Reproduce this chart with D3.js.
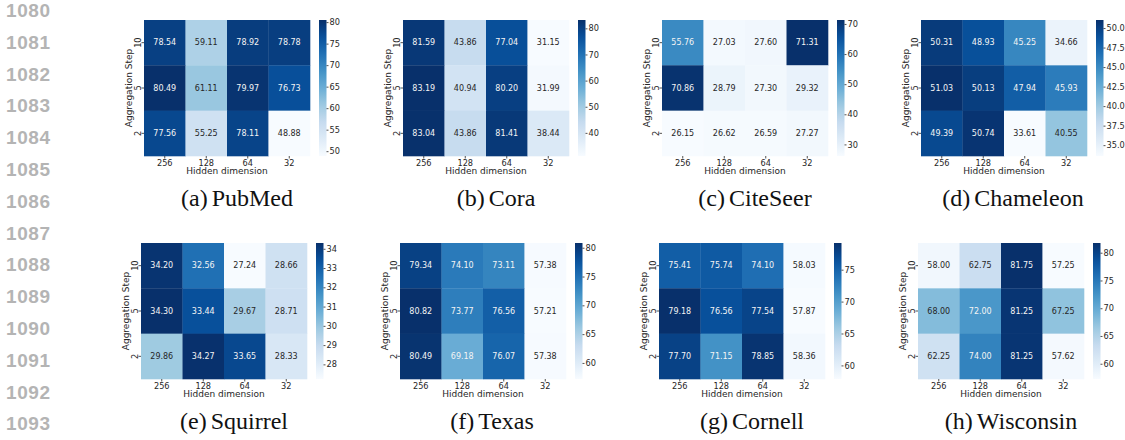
<!DOCTYPE html>
<html>
<head>
<meta charset="utf-8">
<script src="https://cdn.jsdelivr.net/npm/d3@7"></script>
<style>
  html, body { margin: 0; padding: 0; background: #fff; }
  svg { display: block; }
</style>
</head>
<body>
<svg id="fig" width="1125" height="440"></svg>
<script>
// Column and row categories shared by every heatmap
const hiddenDims = ["256", "128", "64", "32"];
const aggSteps = ["10", "5", "2"];

// Accuracy values, one row per aggregation step (10, 5, 2), columns by hidden dimension
const pubmedValues    = [[78.54, 59.11, 78.92, 78.78], [80.49, 61.11, 79.97, 76.73], [77.56, 55.25, 78.11, 48.88]];
const coraValues      = [[81.59, 43.86, 77.04, 31.15], [83.19, 40.94, 80.20, 31.99], [83.04, 43.86, 81.41, 38.44]];
const citeseerValues  = [[55.76, 27.03, 27.60, 71.31], [70.86, 28.79, 27.30, 29.32], [26.15, 26.62, 26.59, 27.27]];
const chameleonValues = [[50.31, 48.93, 45.25, 34.66], [51.03, 50.13, 47.94, 45.93], [49.39, 50.74, 33.61, 40.55]];
const squirrelValues  = [[34.20, 32.56, 27.24, 28.66], [34.30, 33.44, 29.67, 28.71], [29.86, 34.27, 33.65, 28.33]];
const texasValues     = [[79.34, 74.10, 73.11, 57.38], [80.82, 73.77, 76.56, 57.21], [80.49, 69.18, 76.07, 57.38]];
const cornellValues   = [[75.41, 75.74, 74.10, 58.03], [79.18, 76.56, 77.54, 57.87], [77.70, 71.15, 78.85, 58.36]];
const wisconsinValues = [[58.00, 62.75, 81.75, 57.25], [68.00, 72.00, 81.25, 67.25], [62.25, 74.00, 81.25, 57.62]];

// Colour-bar tick values per dataset
const pubmedTicks    = [50, 55, 60, 65, 70, 75, 80];
const coraTicks      = [40, 50, 60, 70, 80];
const citeseerTicks  = [30, 40, 50, 60, 70];
const chameleonTicks = [35.0, 37.5, 40.0, 42.5, 45.0, 47.5, 50.0];
const squirrelTicks  = [28, 29, 30, 31, 32, 33, 34];
const texasTicks     = [60, 65, 70, 75, 80];
const cornellTicks   = [60, 65, 70, 75];
const wisconsinTicks = [60, 65, 70, 75, 80];

// Sub-figure captions
const captionLetters = ["(a)", "(b)", "(c)", "(d)", "(e)", "(f)", "(g)", "(h)"];
const captionNames = ["PubMed", "Cora", "CiteSeer", "Chameleon", "Squirrel", "Texas", "Cornell", "Wisconsin"];

// Manuscript line numbers in the margin
const lineNumbers = d3.range(1080, 1094);

const panels = [
  { values: pubmedValues,    ticks: pubmedTicks,    fmt: "d" },
  { values: coraValues,      ticks: coraTicks,      fmt: "d" },
  { values: citeseerValues,  ticks: citeseerTicks,  fmt: "d" },
  { values: chameleonValues, ticks: chameleonTicks, fmt: ".1f" },
  { values: squirrelValues,  ticks: squirrelTicks,  fmt: "d" },
  { values: texasValues,     ticks: texasTicks,     fmt: "d" },
  { values: cornellValues,   ticks: cornellTicks,   fmt: "d" },
  { values: wisconsinValues, ticks: wisconsinTicks, fmt: "d" }
];

// Matplotlib "Blues" colormap stops (linear segments)
const bluesStops = ["#f7fbff", "#deebf7", "#c6dbef", "#9ecae1", "#6baed6", "#4292c6", "#2171b5", "#08519c", "#08306b"];
const blues = d3.scaleLinear()
  .domain(d3.range(bluesStops.length).map(i => i / (bluesStops.length - 1)))
  .range(bluesStops)
  .interpolate(d3.interpolateRgb)
  .clamp(true);

function relLuminance(color) {
  const c = d3.rgb(color);
  const lin = v => { v /= 255; return v <= 0.03928 ? v / 12.92 : Math.pow((v + 0.055) / 1.055, 2.4); };
  return 0.2126 * lin(c.r) + 0.7152 * lin(c.g) + 0.0722 * lin(c.b);
}

const svg = d3.select("#fig");
const sans = "'DejaVu Sans', sans-serif";
const ink = "#262626";

// Layout
const heatW = 166, heatH = 136;
const colStep = 259;
const rowLeft = [144, 141];
const rowTop = [20, 243];
const cbarOffset = 175, cbarW = 7.5;
const captionCx = [237, 496, 755, 1013, 234, 492, 752, 1011];
const captionBase = [206, 429];

// Line numbers
svg.append("g").selectAll("text")
  .data(lineNumbers)
  .join("text")
  .attr("x", 6)
  .attr("y", (d, i) => 17 + i * 31.8)
  .attr("font-family", "'Liberation Sans', Arial, sans-serif")
  .attr("font-size", 19)
  .attr("font-weight", "bold")
  .attr("letter-spacing", 0.6)
  .attr("fill", "#b4b4b4")
  .text(d => d);

panels.forEach((p, idx) => {
  const row = Math.floor(idx / 4), col = idx % 4;
  const left = rowLeft[row] + col * colStep;
  const top = rowTop[row];
  const g = svg.append("g").attr("transform", `translate(${left},${top})`);

  const flat = p.values.flat();
  const vmin = d3.min(flat), vmax = d3.max(flat);
  const norm = d3.scaleLinear().domain([vmin, vmax]).range([0, 1]);
  const color = v => blues(norm(v));

  const x = d3.scaleBand().domain(hiddenDims).range([0, heatW]);
  const y = d3.scaleBand().domain(aggSteps).range([0, heatH]);

  const cells = aggSteps.flatMap((s, r) => hiddenDims.map((h, c) => ({ s, h, v: p.values[r][c] })));

  g.selectAll("rect.cell")
    .data(cells)
    .join("rect")
    .attr("class", "cell")
    .attr("x", d => x(d.h))
    .attr("y", d => y(d.s))
    .attr("width", x.bandwidth() + 0.3)
    .attr("height", y.bandwidth() + 0.3)
    .attr("fill", d => color(d.v));

  g.selectAll("text.annot")
    .data(cells)
    .join("text")
    .attr("class", "annot")
    .attr("x", d => x(d.h) + x.bandwidth() / 2)
    .attr("y", d => y(d.s) + y.bandwidth() / 2)
    .attr("dy", "0.35em")
    .attr("text-anchor", "middle")
    .attr("font-family", sans)
    .attr("font-size", 8)
    .attr("fill", d => relLuminance(color(d.v)) > 0.408 ? ink : "#f4f4f4")
    .text(d => d3.format(".2f")(d.v));

  // x axis
  const xAxis = g.append("g").attr("transform", `translate(0,${heatH})`)
    .call(d3.axisBottom(x).tickSize(2.5).tickPadding(1.5));
  xAxis.select(".domain").remove();
  xAxis.selectAll("line").attr("stroke", ink).attr("stroke-width", 0.8);
  xAxis.selectAll("text").attr("font-family", sans).attr("font-size", 8.2).attr("fill", ink);

  // y axis with vertical labels
  const yAxis = g.append("g").call(d3.axisLeft(y).tickSize(2.5).tickPadding(1.5));
  yAxis.select(".domain").remove();
  yAxis.selectAll("line").attr("stroke", ink).attr("stroke-width", 0.8);
  yAxis.selectAll("text")
    .attr("font-family", sans).attr("font-size", 8.2).attr("fill", ink)
    .attr("x", null)
    .attr("text-anchor", "middle")
    .attr("transform", "translate(-6,0) rotate(-90)")
    .attr("dy", "0.35em");

  g.append("text")
    .attr("x", heatW / 2)
    .attr("y", heatH + 18)
    .attr("text-anchor", "middle")
    .attr("font-family", sans)
    .attr("font-size", 9)
    .attr("fill", ink)
    .text("Hidden dimension");

  g.append("text")
    .attr("transform", `translate(-15.5,${heatH / 2}) rotate(-90)`)
    .attr("dy", "0.35em")
    .attr("text-anchor", "middle")
    .attr("font-family", sans)
    .attr("font-size", 9)
    .attr("fill", ink)
    .text("Aggregation Step");

  // colour bar
  const gradId = `cbar-grad-${idx}`;
  const grad = svg.append("defs").append("linearGradient")
    .attr("id", gradId).attr("x1", 0).attr("y1", 1).attr("x2", 0).attr("y2", 0);
  d3.range(0, 1.0001, 0.05).forEach(t => {
    grad.append("stop").attr("offset", t).attr("stop-color", blues(t));
  });
  const cb = g.append("g").attr("transform", `translate(${cbarOffset},0)`);
  cb.append("rect").attr("width", cbarW).attr("height", heatH).attr("fill", `url(#${gradId})`);
  const cScale = d3.scaleLinear().domain([vmin, vmax]).range([heatH, 0]);
  const cAxis = cb.append("g").attr("transform", `translate(${cbarW},0)`)
    .call(d3.axisRight(cScale).tickValues(p.ticks).tickFormat(d3.format(p.fmt)).tickSize(2).tickPadding(1));
  cAxis.select(".domain").remove();
  cAxis.selectAll("line").attr("stroke", ink).attr("stroke-width", 0.8);
  cAxis.selectAll("text").attr("font-family", sans).attr("font-size", 8.2).attr("fill", ink);

  // caption
  const cap = svg.append("text")
    .attr("x", captionCx[idx])
    .attr("y", captionBase[row])
    .attr("text-anchor", "middle")
    .attr("font-family", "'Liberation Serif', 'Times New Roman', serif")
    .attr("font-size", 24)
    .attr("fill", "#111");
  cap.append("tspan").text(captionLetters[idx]);
  cap.append("tspan").attr("dx", 4).text(captionNames[idx]);
});
</script>
</body>
</html>
